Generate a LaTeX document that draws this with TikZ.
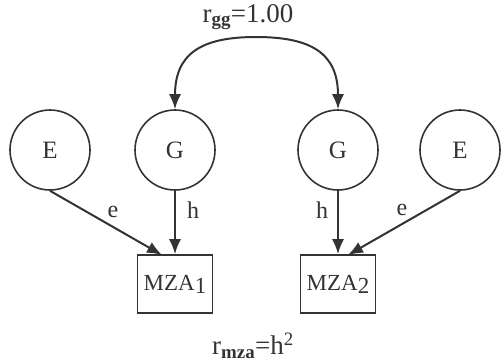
\documentclass[tikz,border=0pt]{standalone}
\usepackage{fontspec}
\setmainfont{Liberation Serif}
\usetikzlibrary{arrows.meta}
\definecolor{ink}{HTML}{333333}
\begin{document}
\begin{tikzpicture}[x=1pt,y=-1pt,
  latent/.style={circle,draw=ink,line width=1.6pt,minimum size=80pt,inner sep=0pt,text=ink,font=\fontsize{25}{27}\selectfont},
  obs/.style={rectangle,draw=ink,line width=1.6pt,minimum width=75pt,minimum height=58pt,inner sep=0pt,text=ink,font=\fontsize{23}{25}\selectfont},
  path/.style={draw=ink,line width=2pt,-{Latex[length=15pt,width=12pt]}},
  lbl/.style={text=ink,font=\fontsize{24}{26}\selectfont,inner sep=0pt},
  big/.style={text=ink,font=\fontsize{27}{30}\selectfont,inner sep=0pt}]
\useasboundingbox (0,0) rectangle (501,362);
\node[latent] (E1) at (50,150) {E};
\node[latent] (G1) at (175,150) {G};
\node[latent] (G2) at (338,150) {G};
\node[latent] (E2) at (460,150) {E};
\node[obs] (M1) at (175,284) {MZA\raisebox{-3pt}{1}};
\node[obs] (M2) at (338,284) {MZA\raisebox{-3pt}{2}};
\coordinate (t1) at (162,255);
\coordinate (t2) at (348,255);
\coordinate (peak) at (256,37);
\draw[path] (E1.south) -- (t1);
\draw[path] (G1.south) -- (M1.north);
\draw[path] (G2.south) -- (M2.north);
\draw[path] (E2.south) -- (t2);
\node[lbl] (le1) at (113,212) {e};
\node[lbl] (lh1) at (193,210) {h};
\node[lbl] (lh2) at (322,210) {h};
\node[lbl] (le2) at (402,210) {e};
\draw[draw=ink,line width=2pt,{Latex[length=15pt,width=12pt]}-{Latex[length=15pt,width=12pt]}]
  (G1.north) to[out=90,in=180,looseness=1.3] (peak) to[out=0,in=90,looseness=1.3] (G2.north);
\node[big] (rgg) at (248,17) {r\textsubscript{\bfseries gg}=1.00};
\node[big] (rmza) at (253,346) {r\textsubscript{\bfseries mza}=h\textsuperscript{2}};
\end{tikzpicture}
\end{document}
